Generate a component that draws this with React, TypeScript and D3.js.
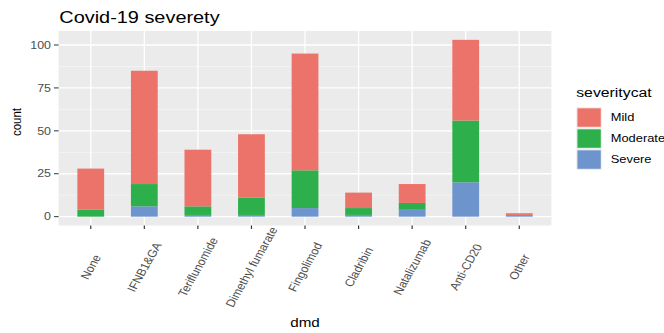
import { useEffect, useRef } from 'react'
import * as d3 from 'd3'

// counts per disease-modifying drug, split by covid severity
const drugs = ['None', 'IFNB1&GA', 'Teriflunomide', 'Dimethyl fumarate', 'Fingolimod', 'Cladribin', 'Natalizumab', 'Anti-CD20', 'Other']
const mild = [24, 66, 33, 37, 68, 9, 11, 47, 1]
const moderate = [4, 13, 5, 10, 22, 4, 4, 36, 0]
const severe = [0, 6, 1, 1, 5, 1, 4, 20, 1]

const levels = ['Mild', 'Moderate', 'Severe']
const levelColors = ['#ec7369', '#2db04b', '#6e94cd']
const yTicks = [0, 25, 50, 75, 100]
const yMinorTicks = [12.5, 37.5, 62.5, 87.5]

export default function App() {
  const canvas = useRef<SVGSVGElement | null>(null)

  useEffect(() => {
    drawChart()
  }, [])

  const drawChart = () => {
    const width = 664
    const height = 333
    // the picture is a bit wider than tall, so lay out in narrower units and stretch
    const sx = 1.17
    const panel = { left: 50.1, right: 471.3, top: 31, bottom: 225.5 }
    const font = '"Liberation Sans", Arial, Helvetica, sans-serif'

    const svg = d3.select(canvas.current)
    svg.selectAll('*').remove()
    svg.attr('width', width).attr('height', height)
      .style('position', 'absolute').style('left', 0).style('top', 0)
      .style('background', '#fff')

    const g = svg.append('g').attr('transform', `scale(${sx},1)`)

    const rows = drugs.map((d, i) => ({ dmd: d, Mild: mild[i], Moderate: moderate[i], Severe: severe[i] }))
    const stack = d3.stack<any>().keys(['Severe', 'Moderate', 'Mild'])
    const series = stack(rows)

    const maxTotal = d3.max(rows, r => r.Mild + r.Moderate + r.Severe) as number
    const pad = maxTotal * 0.05

    const xScale = d3.scalePoint<string>()
      .domain(drugs)
      .range([panel.left, panel.right])
      .padding(0.6)
    const barWidth = xScale.step() * 0.5

    const yScale = d3.scaleLinear()
      .domain([-pad, maxTotal + pad])
      .range([panel.bottom, panel.top])

    const color = d3.scaleOrdinal<string, string>().domain(levels).range(levelColors)

    // panel background
    g.append('rect')
      .attr('x', panel.left).attr('y', panel.top)
      .attr('width', panel.right - panel.left).attr('height', panel.bottom - panel.top)
      .attr('fill', '#ebebeb')

    // grid
    g.append('g').selectAll('line').data(yMinorTicks).join('line')
      .attr('x1', panel.left).attr('x2', panel.right)
      .attr('y1', d => yScale(d)).attr('y2', d => yScale(d))
      .attr('stroke', '#f6f6f6').attr('stroke-width', 0.7)
    g.append('g').selectAll('line').data(yTicks).join('line')
      .attr('x1', panel.left).attr('x2', panel.right)
      .attr('y1', d => yScale(d)).attr('y2', d => yScale(d))
      .attr('stroke', '#fff').attr('stroke-width', 1.3)
    g.append('g').selectAll('line').data(drugs).join('line')
      .attr('x1', d => xScale(d) as number).attr('x2', d => xScale(d) as number)
      .attr('y1', panel.top).attr('y2', panel.bottom)
      .attr('stroke', '#fff').attr('stroke-width', 1.1)

    // stacked bars
    g.append('g').selectAll('g').data(series).join('g')
      .attr('fill', d => color(d.key))
      .selectAll('rect').data(d => d).join('rect')
      .attr('x', d => (xScale(d.data.dmd) as number) - barWidth / 2)
      .attr('width', barWidth)
      .attr('y', d => yScale(d[1]))
      .attr('height', d => yScale(d[0]) - yScale(d[1]))

    // y axis
    const yAxis = g.append('g')
    yAxis.selectAll('line').data(yTicks).join('line')
      .attr('x1', panel.left - 4).attr('x2', panel.left)
      .attr('y1', d => yScale(d)).attr('y2', d => yScale(d))
      .attr('stroke', '#333').attr('stroke-width', 1)
    yAxis.selectAll('text').data(yTicks).join('text')
      .attr('x', panel.left - 6.5).attr('y', d => yScale(d))
      .attr('dy', '0.35em')
      .attr('text-anchor', 'end')
      .style('font-family', font).style('font-size', '10.6px')
      .attr('fill', '#4d4d4d')
      .text(d => d)

    // x axis
    const xAxis = g.append('g')
    xAxis.selectAll('line').data(drugs).join('line')
      .attr('x1', d => xScale(d) as number).attr('x2', d => xScale(d) as number)
      .attr('y1', panel.bottom).attr('y2', panel.bottom + 3.5)
      .attr('stroke', '#333').attr('stroke-width', 1)
    xAxis.selectAll('text').data(drugs).join('text')
      .attr('transform', d => `translate(${xScale(d)},267) rotate(-64)`)
      .attr('text-anchor', 'middle')
      .attr('dy', '0.35em')
      .style('font-family', font).style('font-size', '10.8px')
      .attr('fill', '#4d4d4d')
      .text(d => d)

    // axis titles
    g.append('text')
      .attr('x', (panel.left + panel.right) / 2).attr('y', 327)
      .attr('text-anchor', 'middle')
      .style('font-family', font).style('font-size', '13px')
      .attr('fill', '#000')
      .text('dmd')
    g.append('text')
      .attr('transform', 'translate(18,122) rotate(-90)')
      .attr('text-anchor', 'middle')
      .style('font-family', font).style('font-size', '11.5px')
      .attr('fill', '#000')
      .text('count')

    // title
    g.append('text')
      .attr('x', 50.7).attr('y', 23)
      .style('font-family', font).style('font-size', '17px')
      .attr('fill', '#000')
      .text('Covid-19 severety')

    // legend
    const legend = g.append('g').attr('transform', 'translate(492.5,0)')
    legend.append('text')
      .attr('x', 0).attr('y', 97.5)
      .style('font-family', font).style('font-size', '13.5px')
      .attr('fill', '#000')
      .text('severitycat')
    const keys = legend.selectAll('g.key').data(levels).join('g')
      .attr('class', 'key')
      .attr('transform', (d, i) => `translate(0,${107.3 + i * 21})`)
    keys.append('rect')
      .attr('x', 0.5).attr('y', 0.5)
      .attr('width', 21).attr('height', 19.5)
      .attr('fill', d => color(d))
      .attr('stroke', '#f3f3f3').attr('stroke-width', 1)
    keys.append('text')
      .attr('x', 29.5).attr('y', 10)
      .attr('dy', '0.35em')
      .style('font-family', font).style('font-size', '11px')
      .attr('fill', '#000')
      .text(d => d)
  }

  return (
    <div className='chart'>
      <svg ref={canvas}></svg>
    </div>
  )
}
